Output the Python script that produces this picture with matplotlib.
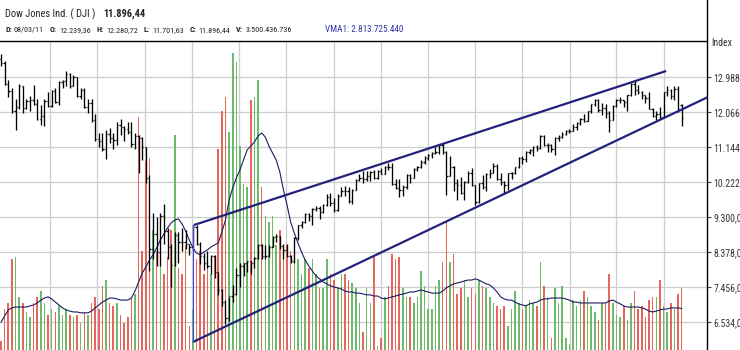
import numpy as np
import pandas as pd
import matplotlib
matplotlib.use("Agg")
import matplotlib.pyplot as plt
import matplotlib.dates as mdates
from matplotlib import font_manager as fm
from matplotlib.lines import Line2D

# ---------------- weekly DJIA bars (week ending Friday) ----------------
first_week = "2007-12-28"

opens = [13450, 13366, 12800, 12606, 12099, 12207, 12743, 12182, 12348, 12381,
         12266, 11894, 11951, 12361, 12216, 12609, 12325, 12849, 12891, 13058,
         12745, 12986, 12480, 12638, 12209, 12307, 11843, 11346, 11289, 11101,
         11496, 11370, 11326, 11734, 11660, 11628, 11544, 11220, 11422, 11388,
         11143, 10325, 8451, 8852, 8378, 9325, 8943, 8497, 8046, 8829,
         8635, 8629, 8579, 8515, 9034, 8599, 8281, 8077, 8001, 8280,
         7850, 7366, 7063, 6627, 7224, 7279, 7776, 8017, 8083, 8131,
         8076, 8212, 8575, 8268, 8277, 8500, 8764, 8799, 8539, 8438,
         8280, 8146, 8743, 9093, 9172, 9370, 9321, 9505, 9544, 9441,
         9605, 9820, 9665, 9488, 9865, 9996, 9972, 9713, 10023, 10271,
         10319, 10310, 10389, 10472, 10329, 10520, 10428, 10618, 10610, 10173,
         10067, 10012, 10099, 10403, 10325, 10567, 10625, 10742, 10851, 10927,
         10997, 11019, 11204, 11009, 10380, 10620, 10193, 10137, 9931, 10212,
         10450, 10143, 9686, 10198, 10098, 10425, 10466, 10654, 10303, 10214,
         10150, 10448, 10462, 10608, 10861, 10830, 11006, 11063, 11133, 11118,
         11445, 11193, 11204, 11092, 11382, 11411, 11492, 11573, 11578, 11675,
         11787, 11872, 11824, 12092, 12273, 12391, 12130, 12170, 12044, 11859,
         12221, 12377, 12380, 12342, 12505, 12811, 12638, 12596, 12512, 12441,
         12151, 11952, 12004, 11934, 12582, 12657, 12480, 12681, 12239]

highs = [13600, 13400, 12900, 12700, 12400, 12800, 12750, 12400, 12500, 12770,
         12400, 12250, 12400, 12600, 12650, 12700, 12870, 12920, 13140, 13100,
         13030, 13000, 12700, 12700, 12400, 12400, 12000, 11500, 11500, 11600,
         11650, 11500, 11800, 11870, 11700, 11800, 11790, 11500, 11450, 11400,
         11150, 10400, 9400, 9300, 9400, 9650, 9000, 8600, 8900, 8900,
         9000, 8950, 8600, 9090, 9100, 8650, 8350, 8400, 8300, 8300,
         7850, 7400, 7100, 7200, 7500, 7950, 8100, 8100, 8150, 8150,
         8250, 8600, 8600, 8550, 8550, 8800, 8850, 8800, 8600, 8600,
         8300, 8760, 9100, 9200, 9400, 9400, 9540, 9600, 9600, 9650,
         9900, 9920, 9800, 9900, 10100, 10120, 10100, 10050, 10300, 10440,
         10500, 10520, 10500, 10530, 10550, 10580, 10650, 10730, 10730, 10300,
         10300, 10150, 10420, 10420, 10580, 10630, 10790, 10900, 10950, 11000,
         11150, 11210, 11260, 11030, 10900, 10650, 10300, 10350, 10250, 10500,
         10600, 10150, 10200, 10400, 10450, 10560, 10720, 10700, 10450, 10250,
         10460, 10480, 10620, 10870, 10900, 11030, 11100, 11160, 11200, 11450,
         11450, 11250, 11230, 11400, 11460, 11530, 11590, 11610, 11750, 11800,
         11900, 12020, 12100, 12280, 12400, 12400, 12290, 12280, 12080, 12250,
         12420, 12450, 12390, 12520, 12820, 12880, 12780, 12620, 12520, 12580,
         12160, 12100, 12200, 12600, 12750, 12660, 12750, 12750, 12281]

lows = [13280, 12780, 12450, 12050, 11600, 12150, 12050, 12140, 12100, 12250,
        11850, 11730, 11700, 12200, 12200, 12300, 12250, 12700, 12750, 12700,
        12740, 12450, 12400, 12180, 12050, 11800, 11300, 11150, 11050, 10830,
        11250, 11100, 11200, 11450, 11300, 11480, 11150, 11100, 10450, 10800,
        10200, 7880, 8200, 8000, 8000, 8600, 8200, 7450, 8000, 8100,
        8400, 8450, 8300, 8400, 8550, 8050, 7900, 7950, 7800, 7700,
        7250, 6950, 6470, 6550, 7050, 7250, 7450, 7750, 7850, 7800,
        7950, 8200, 8200, 8200, 8250, 8500, 8650, 8450, 8200, 8250,
        8100, 8100, 8700, 9000, 9150, 9200, 9100, 9450, 9250, 9400,
        9580, 9600, 9430, 9450, 9850, 9850, 9680, 9650, 10000, 10250,
        10200, 10250, 10250, 10300, 10300, 10420, 10420, 10550, 10150, 10030,
        9830, 9840, 10050, 10200, 10320, 10500, 10580, 10700, 10800, 10850,
        10950, 10950, 10950, 9870, 10370, 9990, 9750, 9900, 9750, 10190,
        10120, 9610, 9680, 10050, 9990, 10330, 10460, 10280, 10130, 9940,
        10000, 10300, 10440, 10580, 10700, 10760, 10970, 10900, 11040, 11100,
        11170, 11000, 11000, 10930, 11300, 11380, 11450, 11520, 11570, 11600,
        11730, 11790, 11820, 12050, 12230, 12060, 11980, 11900, 11550, 11850,
        12200, 12300, 12200, 12100, 12500, 12520, 12550, 12400, 12300, 12150,
        11940, 11860, 11870, 11900, 12500, 12400, 12380, 12070, 11702]

closes = [13366, 12800, 12606, 12099, 12207, 12743, 12182, 12348, 12381, 12266,
          11894, 11951, 12361, 12216, 12609, 12325, 12849, 12891, 13058, 12745,
          12986, 12480, 12638, 12209, 12307, 11843, 11346, 11289, 11101, 11496,
          11370, 11326, 11734, 11660, 11628, 11544, 11220, 11422, 11388, 11143,
          10325, 8451, 8852, 8378, 9325, 8943, 8497, 8046, 8829, 8635,
          8629, 8579, 8515, 9034, 8599, 8281, 8077, 8001, 8280, 7850,
          7366, 7063, 6627, 7224, 7279, 7776, 8017, 8083, 8131, 8076,
          8212, 8575, 8268, 8277, 8500, 8764, 8799, 8539, 8438, 8280,
          8146, 8743, 9093, 9172, 9370, 9321, 9505, 9544, 9441, 9605,
          9820, 9665, 9488, 9865, 9996, 9972, 9713, 10023, 10271, 10319,
          10310, 10389, 10472, 10329, 10520, 10428, 10618, 10610, 10173, 10067,
          10012, 10099, 10403, 10325, 10567, 10625, 10742, 10851, 10927, 10997,
          11019, 11204, 11009, 10380, 10620, 10193, 10137, 9931, 10212, 10450,
          10143, 9686, 10198, 10098, 10425, 10466, 10654, 10303, 10214, 10150,
          10448, 10462, 10608, 10861, 10830, 11006, 11063, 11133, 11118, 11445,
          11193, 11204, 11092, 11382, 11411, 11492, 11573, 11578, 11675, 11787,
          11872, 11824, 12092, 12273, 12391, 12130, 12170, 12044, 11859, 12221,
          12377, 12380, 12342, 12505, 12811, 12638, 12596, 12512, 12441, 12151,
          11952, 12004, 11934, 12582, 12657, 12480, 12681, 12143, 11896]

# weekly volume, billions of shares
volumes = [1.7, 2.8, 3.0, 4.5, 4.6, 3.2, 3.0, 2.7, 2.5, 3.0,
           3.2, 3.4, 3.0, 2.6, 2.8, 2.7, 2.9, 2.6, 2.8, 2.6,
           2.5, 2.6, 2.3, 2.7, 2.6, 3.0, 3.2, 2.8, 3.6, 3.8,
           3.0, 2.9, 3.0, 2.6, 2.3, 2.5, 3.2, 3.3, 9.4, 4.8,
           7.9, 8.0, 5.5, 4.8, 4.5, 4.0, 4.6, 5.5, 8.8, 4.2,
           4.0, 5.0, 2.2, 2.8, 4.5, 4.8, 4.0, 4.3, 4.0, 4.6,
           8.3, 9.6, 10.1, 8.9, 11.6, 11.3, 8.4, 7.1, 7.0, 10.0,
           10.1, 10.7, 7.0, 6.0, 5.8, 6.0, 5.0, 5.5, 5.0, 5.0,
           4.8, 5.0, 4.5, 4.0, 4.5, 4.2, 4.5, 4.0, 3.5, 3.5,
           4.5, 4.0, 3.8, 3.5, 4.0, 4.0, 3.8, 3.7, 3.5, 3.0,
           2.0, 3.5, 3.0, 4.6, 1.5, 1.8, 3.2, 3.6, 4.7, 4.5,
           4.6, 3.5, 3.2, 3.2, 3.0, 3.2, 4.1, 3.6, 2.8, 2.8,
           3.6, 3.8, 4.4, 5.8, 4.4, 4.7, 3.3, 3.5, 3.8, 3.2,
           3.5, 3.3, 3.8, 3.6, 3.5, 3.2, 3.0, 2.9, 2.8, 2.9,
           2.2, 2.8, 3.4, 3.0, 2.8, 2.9, 3.1, 3.0, 2.9, 4.4,
           3.6, 3.2, 1.8, 3.5, 3.0, 3.6, 1.8, 1.6, 3.1, 2.9,
           3.1, 3.4, 3.2, 2.9, 2.7, 2.4, 3.0, 3.0, 4.0, 3.0,
           2.6, 2.5, 2.9, 2.4, 3.0, 3.4, 2.8, 2.9, 2.5, 3.1,
           3.2, 3.2, 3.8, 2.9, 2.7, 3.0, 2.8, 3.3, 3.5]

# volume moving average (VMA1), billions
vma = [2.34, 2.55, 2.76, 2.83, 2.86, 2.86, 2.86, 2.86, 2.90, 2.93,
       3.00, 3.10, 3.17, 3.21, 3.14, 3.03, 2.93, 2.83, 2.76, 2.72,
       2.69, 2.69, 2.66, 2.66, 2.66, 2.72, 2.83, 2.93, 3.03, 3.10,
       3.17, 3.17, 3.14, 3.10, 3.10, 3.10, 3.17, 3.41, 3.72, 4.03,
       4.24, 4.48, 4.66, 4.90, 5.17, 5.38, 5.59, 5.76, 5.86, 5.90,
       5.72, 5.48, 5.17, 4.90, 4.72, 4.66, 4.76, 4.83, 4.93, 5.00,
       5.07, 5.45, 5.86, 6.55, 6.97, 7.31, 7.59, 7.93, 8.28, 8.41,
       8.55, 8.76, 8.86, 8.72, 8.41, 8.17, 7.93, 7.52, 6.90, 6.38,
       5.79, 5.41, 5.07, 4.76, 4.48, 4.28, 4.10, 3.93, 3.83, 3.72,
       3.66, 3.59, 3.55, 3.52, 3.48, 3.41, 3.38, 3.38, 3.34, 3.34,
       3.31, 3.28, 3.28, 3.24, 3.24, 3.17, 3.14, 3.17, 3.21, 3.24,
       3.28, 3.31, 3.34, 3.38, 3.38, 3.41, 3.45, 3.41, 3.38, 3.34,
       3.34, 3.34, 3.41, 3.52, 3.59, 3.66, 3.69, 3.72, 3.76, 3.79,
       3.79, 3.83, 3.79, 3.72, 3.66, 3.62, 3.52, 3.38, 3.21, 3.14,
       3.10, 3.10, 3.03, 2.97, 2.93, 2.90, 2.97, 3.00, 3.03, 3.10,
       3.14, 3.14, 3.17, 3.17, 3.17, 3.17, 3.14, 3.10, 3.03, 3.03,
       3.00, 3.00, 3.00, 3.00, 3.00, 3.00, 3.00, 3.00, 3.07, 3.10,
       3.03, 2.97, 2.90, 2.86, 2.86, 2.86, 2.86, 2.83, 2.79, 2.72,
       2.69, 2.72, 2.76, 2.79, 2.79, 2.83, 2.83, 2.83, 2.81]

price_ticks = [6534, 7456, 8378, 9300, 10222, 11144, 12066, 12988]
quarter_starts = ["2008-04-01", "2008-07-01", "2008-10-01", "2009-01-01",
                  "2009-04-01", "2009-07-01", "2009-10-01", "2010-01-01",
                  "2010-04-01", "2010-07-01", "2010-10-01", "2011-01-01",
                  "2011-04-01", "2011-07-01"]

# wedge drawn on the chart
upper_dates, upper_vals = ["2009-01-04", "2011-07-06"], [9088, 13146]
lower_dates, lower_vals = ["2009-01-02", "2011-09-25"], [6007, 12461]
edge_dates, edge_vals = ["2009-01-03", "2009-01-03"], [9088, 6007]

header_title = "Dow Jones Ind. ( DJI )"
header_last = "11.896,44"
quote_fields = [("D:", "08/03/11"), ("O:", "12.239,36"), ("H:", "12.280,72"),
                ("L:", "11.701,63"), ("C:", "11.896,44"), ("V:", "3.500.436.736")]
vma_label = "VMA1: 2.813.725.440"

# ---------------- fonts ----------------
available = {f.name for f in fm.fontManager.ttflist}
font_name = "Liberation Sans"
for cand in ["Liberation Sans Narrow", "Roboto Condensed", "Open Sans Condensed"]:
    if cand in available:
        font_name = cand
        break
plt.rcParams["font.family"] = [font_name, "DejaVu Sans"]

# ---------------- geometry ----------------
W, H = 740, 350
fig = plt.figure(figsize=(W / 100, H / 100), dpi=100)
fig.patch.set_facecolor("white")
renderer = fig.canvas.get_renderer()

plot_right = 707
plot_top = 41
rect = [0, 0, plot_right / W, (H - plot_top) / H]

dates = pd.date_range(first_week, periods=len(closes), freq="W-FRI")
xd = mdates.date2num(dates)
x_left = mdates.date2num(pd.Timestamp(first_week) - pd.Timedelta(days=2))
x_right = mdates.date2num(pd.Timestamp(first_week) + pd.Timedelta(weeks=195))

price_lo, price_hi = 5796, 13936
vol_lo, vol_hi = 1.379, 12.03

ax_vol = fig.add_axes(rect, zorder=0)
ax = fig.add_axes(rect, zorder=1)
ax.patch.set_visible(False)

for a in (ax_vol, ax):
    a.set_xlim(x_left, x_right)
    for s in a.spines.values():
        s.set_visible(False)
    a.set_xticks([])

ax_vol.set_ylim(vol_lo, vol_hi)
ax_vol.set_yticks([])
ax.set_ylim(price_lo, price_hi)

# grid
grid_c = "#cdcdcd"
for q in quarter_starts:
    ax_vol.axvline(mdates.date2num(pd.Timestamp(q)), color=grid_c, lw=0.9, zorder=0)
for p in price_ticks:
    yv = vol_lo + (p - price_lo) / (price_hi - price_lo) * (vol_hi - vol_lo)
    ax_vol.axhline(yv, color=grid_c, lw=0.9, zorder=0)

# volume bars + moving average
vol_colors = []
for i, c in enumerate(closes):
    ref = closes[i - 1] if i > 0 else opens[0]
    vol_colors.append("#e5675c" if c < ref else "#6dba6a")
ax_vol.bar(xd, volumes, width=3.0, color=vol_colors, linewidth=0, zorder=2)
ax_vol.plot(xd, vma, color="#1c1c66", lw=0.8, zorder=3)

# OHLC bars
tick = 2.4
ax.vlines(xd, lows, highs, color="black", lw=0.95, zorder=4)
ax.hlines(opens, xd - tick, xd, color="black", lw=0.95, zorder=4)
ax.hlines(closes, xd, xd + tick, color="black", lw=0.95, zorder=4)

# wedge lines
def dn(lst):
    return [mdates.date2num(pd.Timestamp(d)) for d in lst]

ax.plot(dn(upper_dates), upper_vals, color="#22227a", lw=1.6, zorder=5, solid_capstyle="butt")
ax.plot(dn(lower_dates), lower_vals, color="#22227a", lw=1.6, zorder=5, solid_capstyle="butt")
ax.plot(dn(edge_dates), edge_vals, color="#4646dc", lw=0.8, zorder=5)

# right price axis
ax.yaxis.tick_right()
ax.set_yticks(price_ticks)
ax.set_yticklabels([f"{v:,.1f}".replace(",", "_").replace(".", ",").replace("_", ".")
                    for v in price_ticks])
ax.tick_params(axis="y", direction="out", length=3, width=0.8, color="#444444",
               labelsize=7, labelcolor="#333333", pad=1.5)

# frame lines
fig.add_artist(Line2D([0, plot_right / W], [1 - plot_top / H] * 2,
                      color="black", lw=1.0, transform=fig.transFigure))
fig.add_artist(Line2D([plot_right / W] * 2, [0, 1],
                      color="black", lw=1.0, transform=fig.transFigure))

fig.text(711 / W, 1 - 43 / H, "Index", fontsize=7, color="#333333", va="center")

# header: title line
t = fig.text(5 / W, 1 - 14 / H, header_title, fontsize=7.5, color="#222222", va="center")
x_next = t.get_window_extent(renderer).x1 + 8
fig.text(x_next / W, 1 - 14 / H, header_last, fontsize=7.5, color="#222222",
         va="center", fontweight="bold")

# header: quote line, pieces laid out one after another
x_next = 5
y_q = 1 - 30 / H
for lab, val in quote_fields:
    t = fig.text(x_next / W, y_q, lab, fontsize=5.9, color="#222222",
                 va="center", fontweight="bold")
    x_next = t.get_window_extent(renderer).x1 + 2
    t = fig.text(x_next / W, y_q, val, fontsize=5.9, color="#222222", va="center")
    x_next = t.get_window_extent(renderer).x1 + 6
fig.text(max(x_next + 6, 325) / W, y_q, vma_label, fontsize=6.6, color="#3333aa", va="center")

fig.savefig("out.png", dpi=100)
